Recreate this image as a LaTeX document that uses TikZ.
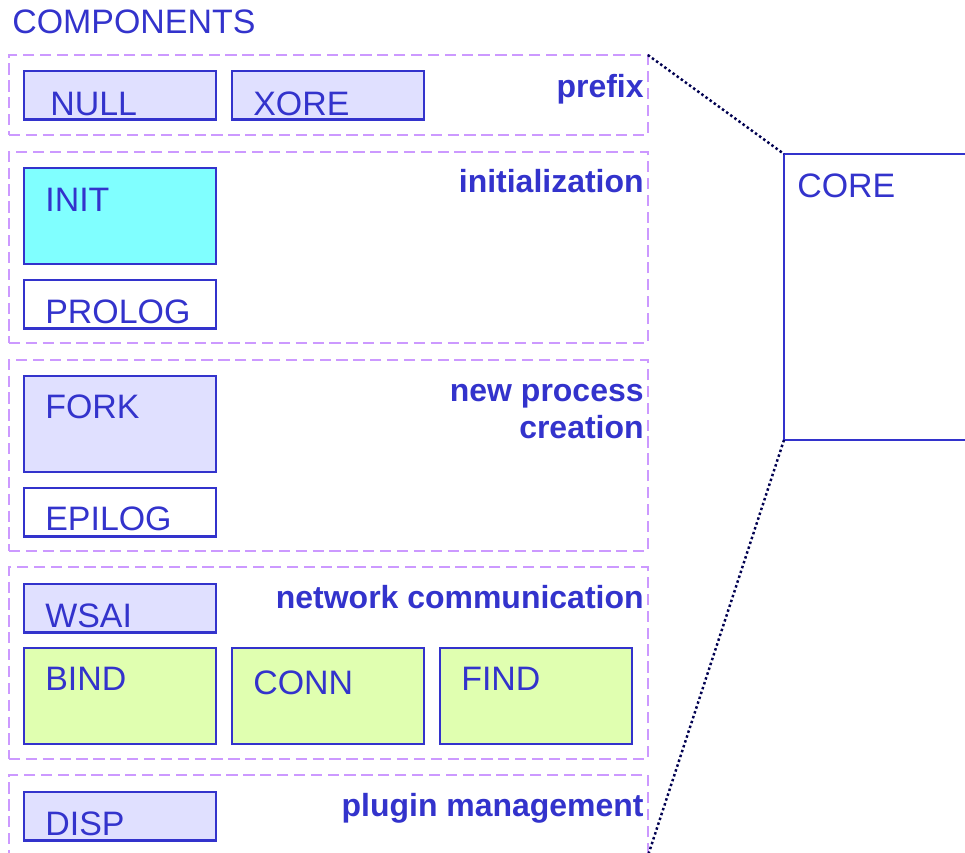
\documentclass[tikz,border=0pt]{standalone}
\usepackage{fontspec}
\setmainfont{Liberation Sans}
\usepackage{tikz}
\definecolor{compblue}{RGB}{51,51,204}
\definecolor{grpline}{RGB}{204,153,255}
\definecolor{lavfill}{RGB}{224,224,255}
\definecolor{cyanfill}{RGB}{128,255,255}
\definecolor{greenfill}{RGB}{224,255,176}
\definecolor{dotnavy}{RGB}{0,0,80}

\begin{document}
\begin{tikzpicture}[x=0.02cm, y=-0.02cm,
  grp/.style={draw=grpline, line width=1.3pt, dash pattern=on 6.4pt off 3.2pt,
    anchor=north west, inner sep=0pt, outer sep=0pt, minimum width=12.78cm},
  comp/.style={draw=compblue, line width=1.4pt, anchor=north west,
    inner sep=0pt, outer sep=0pt, minimum width=3.84cm},
  smallbox/.style={comp, minimum height=0.97cm},
  bigbox/.style={comp, minimum height=1.92cm},
  compname/.style={anchor=base west, inner sep=0pt, text=compblue,
    font=\fontsize{19.3}{22}\selectfont},
  grplabel/.style={anchor=base east, inner sep=0pt, text=compblue,
    font=\fontsize{18.2}{21}\selectfont\bfseries, align=right},
  zoomline/.style={dotnavy, line width=1.4pt, dash pattern=on 1.4pt off 1.5pt}]
  \useasboundingbox (0,0) rectangle (965,853);
  \clip (0,0) rectangle (965,853);

  \node[compname] (title) at (12,33) {COMPONENTS};

  % groups
  \node[grp, minimum height=1.6cm]  (prefix)  at (9,55)  {};
  \node[grp, minimum height=3.82cm] (init)    at (9,152) {};
  \node[grp, minimum height=3.82cm] (newproc) at (9,360) {};
  \node[grp, minimum height=3.84cm] (netcomm) at (9,567) {};
  \node[grp, minimum height=1.62cm] (plugin)  at (9,775) {};

  \node[grplabel] (prefix-l)  at (644,97)  {prefix};
  \node[grplabel] (init-l)    at (644,192) {initialization};
  \node[grplabel] (newproc-l) at (644,401) {new process};
  \node[grplabel] (newproc-m) at (644,438) {creation};
  \node[grplabel] (netcomm-l) at (644,608) {network communication};
  \node[grplabel] (plugin-l)  at (644,816) {plugin management};

  % components
  \node[smallbox, fill=lavfill] (null) at (24,71)  {};
  \node[smallbox, fill=lavfill] (xore) at (232,71) {};
  \node[bigbox, fill=cyanfill]  (initb) at (24,168) {};
  \node[smallbox, fill=white]   (prolog) at (24,280) {};
  \node[bigbox, fill=lavfill]   (fork) at (24,376) {};
  \node[smallbox, fill=white]   (epilog) at (24,488) {};
  \node[smallbox, fill=lavfill] (wsai) at (24,584) {};
  \node[bigbox, fill=greenfill] (bind) at (24,648) {};
  \node[bigbox, fill=greenfill] (conn) at (232,648) {};
  \node[bigbox, fill=greenfill] (find) at (440,648) {};
  \node[smallbox, fill=lavfill] (disp) at (24,792) {};

  \node[compname] (null-t)   at (50,115)  {NULL};
  \node[compname] (xore-t)   at (253,115) {XORE};
  \node[compname] (initb-t)  at (45,211)  {INIT};
  \node[compname] (prolog-t) at (45,323)  {PROLOG};
  \node[compname] (fork-t)   at (45,418)  {FORK};
  \node[compname] (epilog-t) at (45,530)  {EPILOG};
  \node[compname] (wsai-t)   at (45,627)  {WSAI};
  \node[compname] (bind-t)   at (45,690)  {BIND};
  \node[compname] (conn-t)   at (253,694) {CONN};
  \node[compname] (find-t)   at (461,690) {FIND};
  \node[compname] (disp-t)   at (45,835)  {DISP};

  % core, zoomed out
  \node[comp, fill=white, minimum width=3.7cm, minimum height=5.72cm] (core) at (784,154) {};
  \node[compname] (core-t) at (797,197) {CORE};

  \draw[zoomline] (prefix.north east) -- (core.north west);
  \draw[zoomline] (core.south west) -- (plugin.south east);
\end{tikzpicture}
\end{document}
